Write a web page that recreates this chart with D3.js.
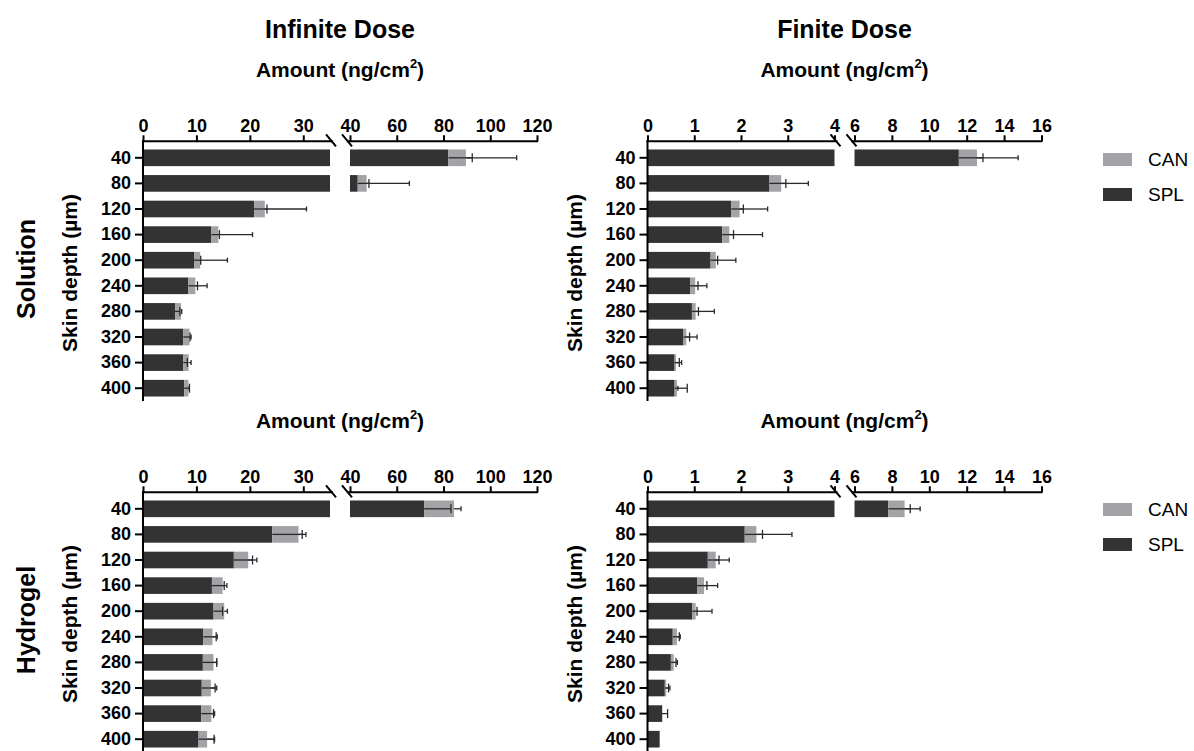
<!DOCTYPE html>
<html>
<head>
<meta charset="utf-8">
<script src="https://cdn.jsdelivr.net/npm/d3@7"></script>
<style>
  body { margin: 0; background: #fff; }
  svg { display: block; font-family: "Liberation Sans", Arial, sans-serif; }
</style>
</head>
<body>
<svg id="chart" width="1194" height="751"></svg>
<script>
// ---------------- DATA ----------------
const depths = [40, 80, 120, 160, 200, 240, 280, 320, 360, 400];
const seriesNames = ["CAN", "SPL"];

// Solution – Infinite dose
const solInfSPL    = [82.1, 43.3, 20.8, 12.8, 9.55, 8.5, 6.0, 7.55, 7.55, 7.7];
const solInfCAN    = [7.5, 3.8, 2.0, 1.3, 1.15, 1.3, 1.1, 1.15, 1.0, 0.8];
const solInfSPLerr = [10.2, 4.8, 2.4, 1.5, 1.25, 1.7, 0.9, 1.25, 0.75, 1.0];
const solInfCANerr = [21.7, 18.3, 7.8, 6.4, 5.1, 2.2, 0.15, 0.3, 0.45, 0.15];

// Solution – Finite dose
const solFinSPL    = [11.58, 2.61, 1.79, 1.60, 1.35, 0.91, 0.95, 0.77, 0.58, 0.58];
const solFinCAN    = [0.97, 0.25, 0.18, 0.15, 0.11, 0.11, 0.08, 0.06, 0.03, 0.05];
const solFinSPLerr = [1.29, 0.35, 0.26, 0.24, 0.15, 0.17, 0.14, 0.13, 0.10, 0.27];
const solFinCANerr = [2.2, 0.58, 0.6, 0.71, 0.43, 0.25, 0.40, 0.23, 0.12, 0.02];

// Hydrogel – Infinite dose
const hydInfSPL    = [71.7, 24.2, 17.0, 12.9, 13.2, 11.3, 11.2, 11.0, 10.9, 10.4];
const hydInfCAN    = [12.8, 4.9, 2.7, 2.0, 2.0, 1.7, 2.0, 1.7, 1.9, 1.6];
const hydInfSPLerr = [11.5, 5.6, 3.5, 2.3, 1.7, 2.4, 2.6, 2.5, 2.3, 2.9];
const hydInfCANerr = [3.0, 1.4, 1.6, 0.8, 0.6, 0.9, 0.6, 1.1, 0.6, 1.4];

// Hydrogel – Finite dose
const hydFinSPL    = [7.81, 2.08, 1.29, 1.06, 0.96, 0.54, 0.50, 0.37, 0.31, 0.26];
const hydFinCAN    = [0.87, 0.25, 0.17, 0.15, 0.07, 0.09, 0.06, 0.03, 0.01, 0.0];
const hydFinSPLerr = [1.17, 0.38, 0.24, 0.21, 0.10, 0.14, 0.11, 0.08, 0.12, 0.0];
const hydFinCANerr = [0.83, 0.76, 0.29, 0.29, 0.35, 0.07, 0.08, 0.08, 0.0, 0.0];

// Broken axis domains and ticks
const infDomain1 = [0, 35],  infDomain2 = [40, 120];
const infTicks1  = [0, 10, 20, 30], infTicks2 = [40, 60, 80, 100, 120];
const finDomain1 = [0, 4],   finDomain2 = [6, 16];
const finTicks1  = [0, 1, 2, 3, 4], finTicks2 = [6, 8, 10, 12, 14, 16];

const colTitles = ["Infinite Dose", "Finite Dose"];
const rowTitles = ["Solution", "Hydrogel"];

// ---------------- STYLE / LAYOUT ----------------
const C_SPL = "#333333", C_CAN = "#a3a2a7", C_INK = "#000";
const colX0 = [143, 647.5];
const segW = 187, segGap = 20;
const axisY = [141.3, 492.3];
const bandTop = [145, 496];
const bandH = 256;

const svg = d3.select("#chart");

const panels = [
  { r: 0, c: 0, spl: solInfSPL, can: solInfCAN, splE: solInfSPLerr, canE: solInfCANerr, d1: infDomain1, d2: infDomain2, t1: infTicks1, t2: infTicks2 },
  { r: 0, c: 1, spl: solFinSPL, can: solFinCAN, splE: solFinSPLerr, canE: solFinCANerr, d1: finDomain1, d2: finDomain2, t1: finTicks1, t2: finTicks2 },
  { r: 1, c: 0, spl: hydInfSPL, can: hydInfCAN, splE: hydInfSPLerr, canE: hydInfCANerr, d1: infDomain1, d2: infDomain2, t1: infTicks1, t2: infTicks2 },
  { r: 1, c: 1, spl: hydFinSPL, can: hydFinCAN, splE: hydFinSPLerr, canE: hydFinCANerr, d1: finDomain1, d2: finDomain2, t1: finTicks1, t2: finTicks2 }
];

panels.forEach(p => {
  const x0 = colX0[p.c];
  const ay = axisY[p.r];
  const s1 = d3.scaleLinear().domain(p.d1).range([x0, x0 + segW]);
  const s2 = d3.scaleLinear().domain(p.d2).range([x0 + segW + segGap, x0 + 2 * segW + segGap]);
  const segs = [{ s: s1, d: p.d1 }, { s: s2, d: p.d2 }];
  const xv = v => (v <= p.d1[1] ? s1(v) : s2(Math.max(v, p.d2[0])));
  const y = d3.scaleBand().domain(depths).range([bandTop[p.r], bandTop[p.r] + bandH]).paddingInner(0.35).paddingOuter(0.175);

  const g = svg.append("g");

  // bars (stacked: SPL then CAN), split across broken axis
  function interval(a, b, color) {
    return segs.map(sg => {
      const lo = Math.max(a, sg.d[0]), hi = Math.min(b, sg.d[1]);
      return hi > lo ? { x: sg.s(lo), w: sg.s(hi) - sg.s(lo), color } : null;
    }).filter(Boolean);
  }
  depths.forEach((d, i) => {
    const parts = interval(0, p.spl[i], C_SPL).concat(interval(p.spl[i], p.spl[i] + p.can[i], C_CAN));
    g.selectAll(null).data(parts).enter().append("rect")
      .attr("x", q => q.x).attr("width", q => q.w)
      .attr("y", y(d)).attr("height", y.bandwidth())
      .attr("fill", q => q.color);
  });

  // error bars
  const eb = g.append("g").attr("stroke", "#2a2a2a").attr("stroke-width", 1.3).attr("fill", "none");
  depths.forEach((d, i) => {
    const cy = y(d) + y.bandwidth() / 2;
    const items = [
      { a: p.spl[i], e: p.splE[i], cap: 4.5 },
      { a: p.spl[i] + p.can[i], e: p.canE[i], cap: 2.5 }
    ];
    items.forEach(it => {
      if (it.e <= 0) return;
      const xa = xv(it.a), xb = xv(it.a + it.e);
      eb.append("line").attr("x1", xa).attr("x2", xb).attr("y1", cy).attr("y2", cy);
      eb.append("line").attr("x1", xb).attr("x2", xb).attr("y1", cy - it.cap).attr("y2", cy + it.cap);
    });
  });

  // top axes (two segments)
  [{ s: s1, t: p.t1 }, { s: s2, t: p.t2 }].forEach((sg, k) => {
    const ax = d3.axisTop(sg.s).tickValues(sg.t).tickSize(6).tickSizeOuter(0).tickPadding(3).tickFormat(d3.format("d"));
    const ga = g.append("g").attr("transform", `translate(0,${ay})`).call(ax);
    ga.select(".domain").remove();
    ga.selectAll(".tick line").attr("stroke", C_INK).attr("stroke-width", 2);
    ga.selectAll(".tick text").attr("fill", C_INK).attr("font-size", 18).attr("font-weight", "bold")
      .attr("font-family", "Liberation Sans, Arial, sans-serif");
    const r = sg.s.range();
    const ext = k === 0 ? [r[0] - 1, r[1] + 3] : [r[0] - 3, r[1] + 1];
    g.append("line").attr("x1", ext[0]).attr("x2", ext[1]).attr("y1", ay).attr("y2", ay)
      .attr("stroke", C_INK).attr("stroke-width", 2);
  });
  // break marks
  const bx1 = s1.range()[1] + 1, bx2 = s2.range()[0] - 3;
  [bx1, bx2].forEach(bx => {
    g.append("line").attr("x1", bx - 5).attr("x2", bx + 5).attr("y1", ay - 7).attr("y2", ay + 5)
      .attr("stroke", C_INK).attr("stroke-width", 2);
  });

  // left axis
  const ay2 = d3.axisLeft(y).tickSize(8).tickPadding(4).tickSizeOuter(0);
  const gy = g.append("g").attr("transform", `translate(${x0},0)`).call(ay2);
  gy.select(".domain").remove();
  gy.selectAll(".tick line").attr("stroke", C_INK).attr("stroke-width", 2);
  gy.selectAll(".tick text").attr("fill", C_INK).attr("font-size", 18).attr("font-weight", "bold")
    .attr("font-family", "Liberation Sans, Arial, sans-serif");
  g.append("line").attr("x1", x0).attr("x2", x0).attr("y1", ay - 1).attr("y2", bandTop[p.r] + bandH)
    .attr("stroke", C_INK).attr("stroke-width", 2);

  // axis title "Amount (ng/cm²)"
  const cx = (x0 + x0 + 2 * segW + segGap) / 2;
  const at = g.append("text").attr("x", cx).attr("y", ay - 64).attr("text-anchor", "middle")
    .attr("font-size", 21).attr("font-weight", "bold").attr("fill", C_INK);
  at.append("tspan").text("Amount (ng/cm");
  at.append("tspan").attr("font-size", 13).attr("dy", -9).text("2");
  at.append("tspan").attr("dy", 9).text(")");

  // y axis title
  const ym = bandTop[p.r] + bandH / 2;
  g.append("text").attr("transform", `translate(${x0 - 66},${ym}) rotate(-90)`)
    .attr("text-anchor", "middle").attr("font-size", 21).attr("font-weight", "bold").attr("fill", C_INK)
    .text("Skin depth (µm)");

  // column title
  if (p.r === 0) {
    g.append("text").attr("x", cx).attr("y", 38).attr("text-anchor", "middle")
      .attr("font-size", 25).attr("font-weight", "bold").attr("fill", C_INK).text(colTitles[p.c]);
  }
  // row title
  if (p.c === 0) {
    g.append("text").attr("transform", `translate(35,${ym - 4}) rotate(-90)`)
      .attr("text-anchor", "middle").attr("font-size", 25).attr("font-weight", "bold").attr("fill", C_INK)
      .text(rowTitles[p.r]);
  }
});

// legends
const legendColors = { CAN: C_CAN, SPL: C_SPL };
[153, 503].forEach(ly => {
  const lg = svg.append("g").attr("transform", `translate(1103,${ly})`);
  seriesNames.forEach((n, i) => {
    lg.append("rect").attr("x", 0).attr("y", i * 35).attr("width", 29).attr("height", 13).attr("fill", legendColors[n]);
    lg.append("text").attr("x", 45).attr("y", i * 35 + 6.5).attr("dy", "0.35em")
      .attr("font-size", 19).attr("fill", C_INK).text(n);
  });
});
</script>
</body>
</html>
